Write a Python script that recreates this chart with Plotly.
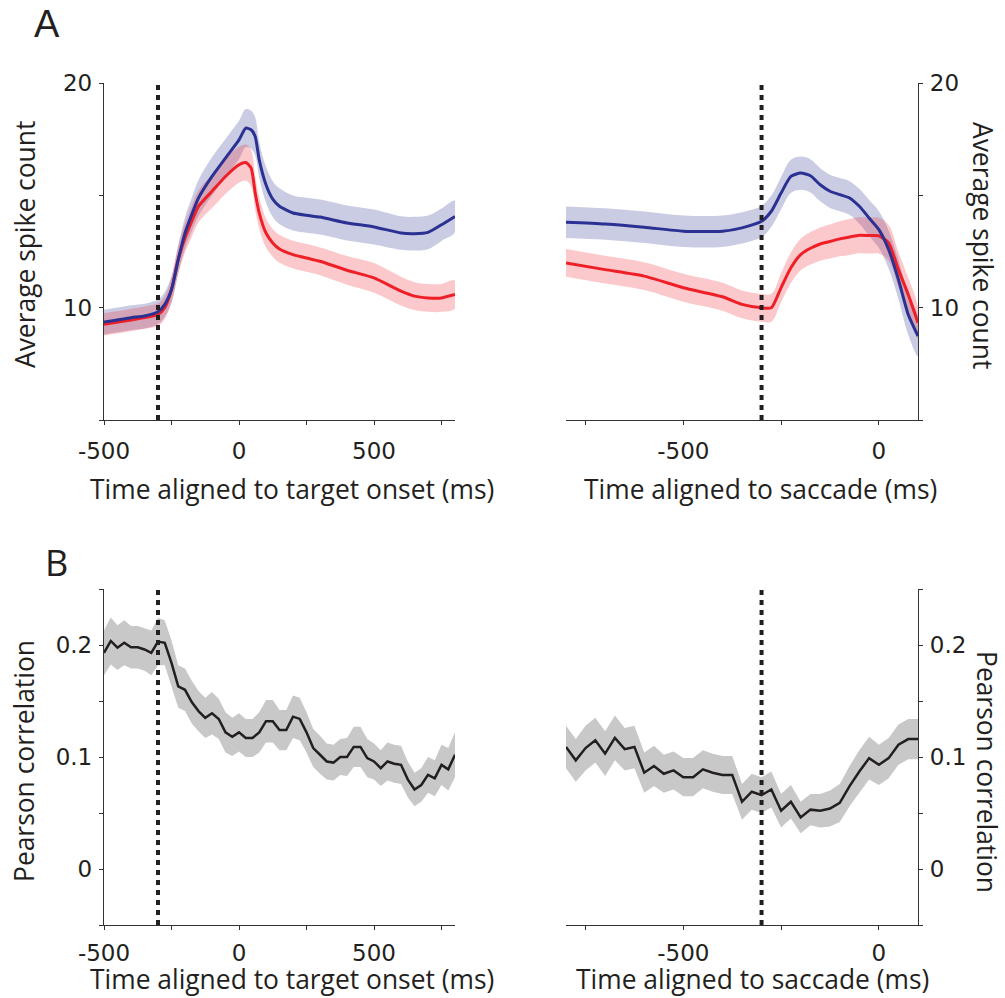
import plotly.graph_objects as go

# ---------------- data ----------------
event_time = -300  # dotted reference line (ms)

# Panel A, left: aligned to target onset
t_target = [-500, -400, -350, -300, -275, -250, -225, -200, -175, -150, -100, -50, 0, 25, 45, 60, 75,
            100, 125, 150, 200, 250, 300, 400, 500, 600, 650, 700, 750, 800]
blue_target = [9.36, 9.56, 9.63, 9.82, 10.15, 10.81, 12.15, 13.33, 14.15, 14.89, 15.85, 16.67, 17.48, 18.0,
               17.93, 17.63, 16.59, 15.48, 14.84, 14.52, 14.22, 14.12, 14.04, 13.78, 13.6, 13.33, 13.3,
               13.36, 13.7, 14.07]
blue_target_sem = [0.55, 0.55, 0.55, 0.55, 0.55, 0.6, 0.65, 0.7, 0.75, 0.8, 0.85, 0.85, 0.85, 0.85,
                   0.85, 0.85, 0.8, 0.8, 0.8, 0.8, 0.78, 0.78, 0.78, 0.78, 0.78, 0.75, 0.75, 0.75, 0.72, 0.7]
red_target = [9.26, 9.45, 9.56, 9.70, 10.0, 10.81, 12.15, 13.11, 13.85, 14.52, 15.19, 15.85, 16.37, 16.47,
              16.22, 15.11, 14.22, 13.33, 12.89, 12.62, 12.37, 12.22, 12.07, 11.67, 11.33, 10.74, 10.52,
              10.44, 10.44, 10.59]
red_target_sem = [0.5, 0.5, 0.5, 0.5, 0.5, 0.55, 0.6, 0.65, 0.7, 0.72, 0.75, 0.78, 0.8, 0.8,
                  0.8, 0.75, 0.7, 0.65, 0.62, 0.62, 0.62, 0.62, 0.62, 0.64, 0.66, 0.64, 0.62, 0.62, 0.62, 0.62]

# Panel A, right: aligned to saccade
t_sacc = [-800, -700, -600, -500, -400, -350, -300, -275, -250, -225, -200, -175, -150, -125, -100,
          -75, -50, -25, 0, 25, 50, 75, 100]
blue_sacc = [13.81, 13.73, 13.59, 13.41, 13.41, 13.56, 13.85, 14.3, 15.11, 15.85, 16.0, 15.88, 15.48,
             15.19, 15.04, 14.89, 14.52, 14.0, 13.48, 12.59, 11.26, 9.70, 8.74]
blue_sacc_sem = [0.7, 0.7, 0.7, 0.7, 0.7, 0.7, 0.7, 0.7, 0.72, 0.74, 0.74, 0.74, 0.74, 0.74, 0.74,
                 0.75, 0.78, 0.8, 0.82, 0.85, 0.88, 0.9, 0.9]
red_sacc = [12.0, 11.7, 11.41, 10.89, 10.49, 10.15, 10.0, 10.0, 10.9, 11.78, 12.37, 12.65, 12.84,
            12.95, 13.07, 13.15, 13.23, 13.22, 13.21, 12.89, 11.7, 10.59, 9.33]
red_sacc_sem = [0.62, 0.62, 0.62, 0.62, 0.62, 0.62, 0.62, 0.62, 0.65, 0.68, 0.7, 0.72, 0.74, 0.76, 0.78,
                0.8, 0.8, 0.8, 0.8, 0.8, 0.78, 0.75, 0.7]

# Panel B, left: Pearson correlation aligned to target onset (25 ms bins)
t_corr_target = list(range(-500, 801, 25))
corr_target = [0.193, 0.2036, 0.1976, 0.202, 0.198, 0.198, 0.196, 0.193, 0.203, 0.202, 0.184, 0.163,
               0.160, 0.149, 0.141, 0.135, 0.139, 0.134, 0.122, 0.118, 0.122, 0.117, 0.117, 0.122,
               0.132, 0.132, 0.124, 0.124, 0.136, 0.134, 0.122, 0.108, 0.102, 0.096, 0.095, 0.100,
               0.100, 0.109, 0.109, 0.099, 0.096, 0.090, 0.096, 0.094, 0.093, 0.080, 0.071, 0.075,
               0.084, 0.081, 0.093, 0.089, 0.102]
corr_target_sem = [0.02, 0.021, 0.02, 0.02, 0.019, 0.019, 0.019, 0.02, 0.021, 0.02, 0.02, 0.019,
                   0.019, 0.019, 0.018, 0.018, 0.019, 0.018, 0.018, 0.017, 0.017, 0.017, 0.017, 0.018,
                   0.019, 0.019, 0.018, 0.018, 0.019, 0.019, 0.018, 0.017, 0.017, 0.016, 0.016, 0.016,
                   0.017, 0.018, 0.018, 0.017, 0.016, 0.016, 0.017, 0.017, 0.017, 0.016, 0.015, 0.015,
                   0.016, 0.016, 0.018, 0.019, 0.02]

# Panel B, right: Pearson correlation aligned to saccade (25 ms bins)
t_corr_sacc = list(range(-800, 101, 25))
corr_sacc = [0.109, 0.097, 0.108, 0.115, 0.103, 0.117, 0.107, 0.109, 0.086, 0.092, 0.085, 0.088,
             0.082, 0.082, 0.089, 0.086, 0.084, 0.084, 0.060, 0.069, 0.066, 0.071, 0.052, 0.060,
             0.046, 0.053, 0.052, 0.054, 0.059, 0.074, 0.087, 0.099, 0.093, 0.099, 0.111, 0.116,
             0.116]
corr_sacc_sem = [0.019, 0.019, 0.02, 0.02, 0.02, 0.02, 0.019, 0.019, 0.018, 0.018, 0.017, 0.017,
                 0.017, 0.017, 0.017, 0.017, 0.017, 0.017, 0.016, 0.016, 0.016, 0.016, 0.015, 0.015,
                 0.014, 0.014, 0.015, 0.016, 0.017, 0.018, 0.019, 0.019, 0.018, 0.018, 0.018, 0.018,
                 0.018]

# tick specs
x_target_ticks = [-500, -250, 0, 250, 500, 750]
x_target_text = ["-500", "", "0", "", "500", ""]
x_sacc_ticks = [-750, -500, -250, 0]
x_sacc_text = ["", "-500", "", "0"]
y_count_ticks = [5, 10, 15, 20]
y_count_text = ["", "10", "", "20"]
y_corr_ticks = [-0.05, 0, 0.05, 0.1, 0.15, 0.2, 0.25]
y_corr_text = ["", "0", "", "0.1", "", "0.2", ""]

# ---------------- styles ----------------
BLUE = "#2b3192"
RED = "#ee1f27"
BLUE_BAND = "rgba(60,66,150,0.27)"
RED_BAND = "rgba(240,40,50,0.25)"
GRAY_BAND = "#c8c8c8"
BLACK = "#231f20"
AX = "#333333"
W, H = 1005, 998

fig = go.Figure()


def band(x, m, s, color, xa, ya, shape):
    up = [a + b for a, b in zip(m, s)]
    lo = [a - b for a, b in zip(m, s)]
    fig.add_trace(go.Scatter(x=list(x) + list(x)[::-1], y=up + lo[::-1], fill="toself",
                             fillcolor=color, line=dict(width=0, shape=shape), mode="lines",
                             hoverinfo="skip", showlegend=False, xaxis=xa, yaxis=ya))


def line(x, m, color, xa, ya, shape, width=3):
    fig.add_trace(go.Scatter(x=x, y=m, mode="lines", line=dict(color=color, width=width, shape=shape,
                                                              smoothing=0.6),
                             showlegend=False, xaxis=xa, yaxis=ya))


# top-left
band(t_target, blue_target, blue_target_sem, BLUE_BAND, "x", "y", "spline")
band(t_target, red_target, red_target_sem, RED_BAND, "x", "y", "spline")
line(t_target, red_target, RED, "x", "y", "spline")
line(t_target, blue_target, BLUE, "x", "y", "spline")
# top-right
band(t_sacc, blue_sacc, blue_sacc_sem, BLUE_BAND, "x2", "y2", "spline")
band(t_sacc, red_sacc, red_sacc_sem, RED_BAND, "x2", "y2", "spline")
line(t_sacc, red_sacc, RED, "x2", "y2", "spline")
line(t_sacc, blue_sacc, BLUE, "x2", "y2", "spline")
# bottom-left
band(t_corr_target, corr_target, corr_target_sem, GRAY_BAND, "x3", "y3", "linear")
line(t_corr_target, corr_target, BLACK, "x3", "y3", "linear", 2.5)
# bottom-right
band(t_corr_sacc, corr_sacc, corr_sacc_sem, GRAY_BAND, "x4", "y4", "linear")
line(t_corr_sacc, corr_sacc, BLACK, "x4", "y4", "linear", 2.5)

# dotted event lines
for xr, yr in [("x", "y"), ("x2", "y2"), ("x3", "y3"), ("x4", "y4")]:
    fig.add_shape(type="line", xref=xr, yref=yr + " domain", x0=event_time, x1=event_time, y0=0, y1=1,
                  line=dict(color=BLACK, width=4, dash="5px,5px"), layer="above")

tickfont = dict(family="DejaVu Sans", size=23, color=BLACK)
common = dict(showline=True, linecolor=AX, linewidth=1.3, ticks="outside", ticklen=4, tickwidth=1.2,
              tickcolor=AX, showgrid=False, zeroline=False, tickfont=tickfont, mirror=False,
              automargin=False)

xl = [104 / W, 455 / W]
xr_ = [566 / W, 918 / W]
yt = [1 - 420 / H, 1 - 83.3 / H]
yb = [1 - 925 / H, 1 - 589 / H]

fig.update_layout(
    width=W, height=H, margin=dict(l=0, r=0, t=0, b=0, pad=0, autoexpand=False),
    paper_bgcolor="white", plot_bgcolor="white", showlegend=False,
    xaxis=dict(domain=xl, range=[-500, 800], anchor="y", tickvals=x_target_ticks, ticktext=x_target_text,
               ticklabelstandoff=6, **common),
    yaxis=dict(domain=yt, range=[5, 20], anchor="x", tickvals=y_count_ticks, ticktext=y_count_text,
               ticklabelstandoff=2, **common),
    xaxis2=dict(domain=xr_, range=[-800, 100], anchor="y2", tickvals=x_sacc_ticks, ticktext=x_sacc_text,
                ticklabelstandoff=6, **common),
    yaxis2=dict(domain=yt, range=[5, 20], anchor="x2", side="right", tickvals=y_count_ticks,
                ticktext=y_count_text, ticklabelstandoff=2, **common),
    xaxis3=dict(domain=xl, range=[-500, 800], anchor="y3", tickvals=x_target_ticks, ticktext=x_target_text,
                ticklabelstandoff=3, **common),
    yaxis3=dict(domain=yb, range=[-0.05, 0.25], anchor="x3", tickvals=y_corr_ticks, ticktext=y_corr_text,
                ticklabelstandoff=2, **common),
    xaxis4=dict(domain=xr_, range=[-800, 100], anchor="y4", tickvals=x_sacc_ticks, ticktext=x_sacc_text,
                ticklabelstandoff=3, **common),
    yaxis4=dict(domain=yb, range=[-0.05, 0.25], anchor="x4", side="right", tickvals=y_corr_ticks,
                ticktext=y_corr_text, ticklabelstandoff=2, **common),
)

titlefont = dict(family="Open Sans", size=26.4, color=BLACK)


def ann(text, px, py, angle=0, font=titlefont):
    fig.add_annotation(text=text, x=px / W, y=1 - py / H, xref="paper", yref="paper", showarrow=False,
                       textangle=angle, font=font, xanchor="center", yanchor="middle")


ann("Time aligned to target onset (ms)", 292, 489)
ann("Time aligned to saccade (ms)", 760, 489)
ann("Time aligned to target onset (ms)", 292, 979)
ann("Time aligned to saccade (ms)", 752, 979)
ann("Average spike count", 25, 245, -90)
ann("Average spike count", 983, 245, 90)
ann("Pearson correlation", 24, 761, -90)
ann("Pearson correlation", 987, 772, 90)
ann("A", 47, 24, 0, dict(family="Liberation Sans", size=38, color=BLACK))
ann("B", 56, 562, 0, dict(family="Open Sans", size=36, color=BLACK))

fig.write_html("out.html")
